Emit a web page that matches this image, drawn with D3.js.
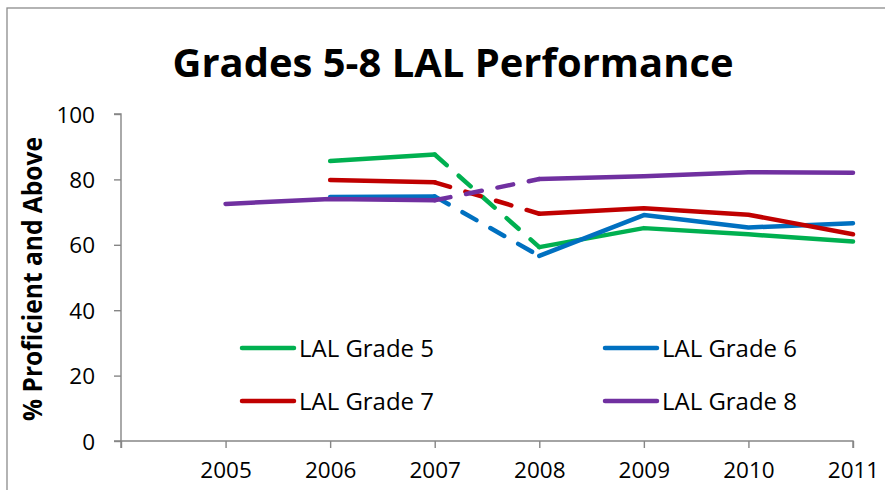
<!DOCTYPE html>
<html>
<head>
<meta charset="utf-8">
<script src="https://cdn.jsdelivr.net/npm/d3@7"></script>
<style>
  body { margin: 0; background: #fff; }
  svg { display: block; font-family: "Open Sans", Lato, sans-serif; }
</style>
</head>
<body>
<svg width="885" height="490"></svg>
<script>
// years on the category axis
const years = [2005, 2006, 2007, 2008, 2009, 2010, 2011];
const yTicks = [0, 20, 40, 60, 80, 100];

const grade5 = [null, 85.6, 87.6, 59.3, 65.1, 63.2, 61];
const grade6 = [null, 74.6, 74.8, 56.6, 69.1, 65.3, 66.6];
const grade7 = [null, 79.8, 79.1, 69.5, 71.2, 69.2, 63.2];
const grade8 = [72.5, 74.0, 73.6, 80.1, 81.0, 82.2, 82.0];

// the 2007 -> 2008 step is drawn dashed
const gapFrom = 2007, gapTo = 2008;

const series = [
  { name: 'LAL Grade 5', values: grade5, color: '#00B050' },
  { name: 'LAL Grade 6', values: grade6, color: '#0070C0' },
  { name: 'LAL Grade 7', values: grade7, color: '#C00000' },
  { name: 'LAL Grade 8', values: grade8, color: '#7030A0' }
];

const svg = d3.select('svg');
const margin = { left: 121, right: 853, top: 114, bottom: 441 };

// outer chart frame (runs off the right and bottom edge)
svg.append('rect')
  .attr('x', 7).attr('y', 8)
  .attr('width', 900).attr('height', 500)
  .attr('fill', 'none')
  .attr('stroke', '#8c8c8c')
  .attr('stroke-width', 1.3);

const x = d3.scaleLinear().domain([2004, 2011]).range([margin.left, margin.right]);
const y = d3.scaleLinear().domain([0, 100]).range([margin.bottom, margin.top]);

svg.append('text')
  .attr('x', 453).attr('y', 77)
  .attr('text-anchor', 'middle')
  .attr('font-weight', 'bold')
  .attr('font-size', 40)
  .attr('textLength', 561)
  .attr('lengthAdjust', 'spacingAndGlyphs')
  .text('Grades 5-8 LAL Performance');

svg.append('text')
  .attr('transform', 'translate(42,' + 279 + ') rotate(-90)')
  .attr('text-anchor', 'middle')
  .attr('font-weight', 'bold')
  .attr('font-size', 26)
  .attr('textLength', 284)
  .attr('lengthAdjust', 'spacingAndGlyphs')
  .text('% Proficient and Above');

// axes
const yAxis = svg.append('g')
  .attr('transform', 'translate(' + margin.left + ',0)')
  .call(d3.axisLeft(y).tickValues(yTicks).tickSize(7).tickPadding(19));

const xAxis = svg.append('g')
  .attr('transform', 'translate(0,' + margin.bottom + ')')
  .call(d3.axisBottom(x).tickValues([2004].concat(years)).tickSize(7).tickPadding(14)
    .tickFormat(d => d === 2004 ? '' : d));

[yAxis, xAxis].forEach(a => {
  a.selectAll('path, line').attr('stroke', '#868686').attr('stroke-width', 1.4);
  a.selectAll('text').attr('font-size', 22.5).attr('fill', '#000')
    .attr('font-family', '"Open Sans", sans-serif');
});
yAxis.select('.domain').attr('d', 'M-7,' + margin.top + 'H0V' + margin.bottom + 'H-7');
xAxis.select('.domain').attr('d', 'M' + margin.left + ',7V0H' + margin.right + 'V7');
yAxis.selectAll('text').attr('dy', '0.36em');

const line = d3.line()
  .defined(d => d.v != null)
  .x(d => x(d.year))
  .y(d => y(d.v));

const plot = svg.append('g');
series.forEach(s => {
  const pts = years.map((yr, i) => ({ year: yr, v: s.values[i] }));
  const before = pts.filter(p => p.year <= gapFrom);
  const after = pts.filter(p => p.year >= gapTo);
  const gap = pts.filter(p => p.year === gapFrom || p.year === gapTo);
  [before, after].forEach(seg => {
    plot.append('path')
      .attr('d', line(seg))
      .attr('fill', 'none')
      .attr('stroke', s.color)
      .attr('stroke-width', 4.5)
      .attr('stroke-linecap', 'round')
      .attr('stroke-linejoin', 'round');
  });
  plot.append('path')
    .attr('d', line(gap))
    .attr('fill', 'none')
    .attr('stroke', s.color)
    .attr('stroke-width', 4.5)
    .attr('stroke-linecap', 'round')
    .attr('stroke-dasharray', '16,16');
});

// legend, two columns
const legend = svg.append('g');
series.forEach((s, i) => {
  const lx = i % 2 === 0 ? 242 : 605;
  const ly = i < 2 ? 348 : 401;
  legend.append('line')
    .attr('x1', lx).attr('x2', lx + 52)
    .attr('y1', ly).attr('y2', ly)
    .attr('stroke', s.color)
    .attr('stroke-width', 4.5)
    .attr('stroke-linecap', 'round');
  legend.append('text')
    .attr('x', lx + 57).attr('y', ly)
    .attr('dy', '0.36em')
    .attr('font-size', 24)
    .attr('textLength', 135)
    .attr('lengthAdjust', 'spacingAndGlyphs')
    .text(s.name);
});
</script>
</body>
</html>
